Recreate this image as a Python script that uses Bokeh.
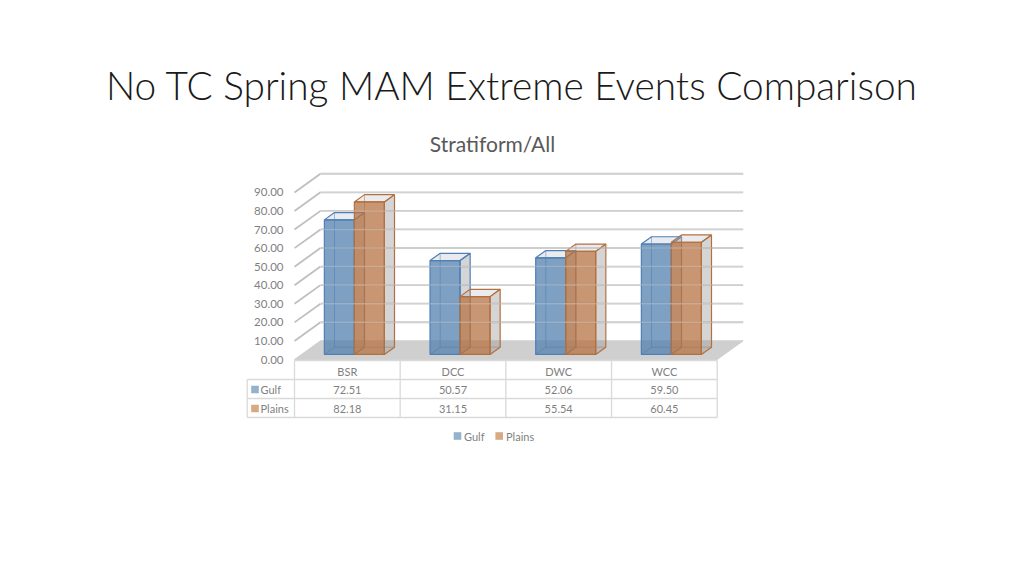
from bokeh.plotting import figure
from bokeh.models import Range1d
from bokeh.core.properties import value
from bokeh.embed import file_html
from bokeh.resources import INLINE

# ---- data ----
categories = ["BSR", "DCC", "DWC", "WCC"]
series_names = ["Gulf", "Plains"]
gulf = [72.51, 50.57, 52.06, 59.50]
plains = [82.18, 31.15, 55.54, 60.45]
y_ticks = [0, 10, 20, 30, 40, 50, 60, 70, 80, 90]
y_tick_labels = ["%.2f" % t for t in y_ticks]
title_text = "No TC Spring MAM Extreme Events Comparison"
chart_title = "Stratiform/All"

# ---- layout (window pixel anchors) ----
W, H = 1008, 560
ORG = 0              # canvas origin in the captured picture
X0_PX = 294.0        # left edge of first category at front plane
CAT_PX = 105.67      # pixels per category
Y0_PX = 359.0        # value 0 at front plane
VAL_PX = 1.856       # pixels per value unit
DX = 26.0 / CAT_PX   # depth shift (category units) for full depth
DY = 18.7 / VAL_PX   # depth shift (value units) for full depth
D1, D2 = 0.27, 0.66  # bar front/back depth
BW = 30.0 / CAT_PX   # bar width


def wx(px):
    return (px - X0_PX) / CAT_PX


def wy(py):
    return (Y0_PX - py) / VAL_PX


p = figure(width=W, height=H, output_backend="svg", toolbar_location=None,
           x_range=Range1d(wx(ORG), wx(ORG + W)), y_range=Range1d(wy(ORG + H), wy(ORG)),
           min_border=0)
p.axis.visible = False
p.grid.visible = False
p.outline_line_color = None
p.background_fill_color = "white"
p.border_fill_color = "white"


def P(x, v, d):
    return x + d * DX, v + d * DY


ncat = len(categories)

# ---- back wall gridlines and side diagonals ----
gx, gy = [], []
for t in y_ticks[1:]:
    a = P(0, t, 1)
    b = P(ncat, t, 1)
    gx.append([a[0], b[0]]); gy.append([a[1], b[1]])
    c = P(0, t, 0)
    gx.append([c[0], a[0]]); gy.append([c[1], a[1]])
p.multi_line(gx, gy, line_color="#BFBFBF", line_width=1.8)

# ---- floor ----
fl = [P(0, 0, 0), P(ncat, 0, 0), P(ncat, 0, 1), P(0, 0, 1)]
p.patch([q[0] for q in fl], [q[1] for q in fl], fill_color="#CFCFCF", line_color="#CFCFCF", line_width=1)

# ---- bars ----
styles = [
    dict(fill="#5280AF", edge="#4F7FB8"),
    dict(fill="#B67344", edge="#B3703F"),
]
for s, vals in enumerate([gulf, plains]):
    hx, hy, rx, ry, tx, ty, fx, fy = [], [], [], [], [], [], [], []
    for i, v in enumerate(vals):
        x0 = i + 0.5 + (s - 1) * BW
        x1 = x0 + BW
        for a, b in [((x0, 0, D2), (x0, v, D2)), ((x0, 0, D2), (x1, 0, D2)), ((x0, 0, D1), (x0, 0, D2))]:
            pa, pb = P(*a), P(*b)
            hx.append([pa[0], pb[0]]); hy.append([pa[1], pb[1]])
        r = [P(x1, 0, D1), P(x1, 0, D2), P(x1, v, D2), P(x1, v, D1)]
        rx.append([q[0] for q in r]); ry.append([q[1] for q in r])
        t = [P(x0, v, D1), P(x1, v, D1), P(x1, v, D2), P(x0, v, D2)]
        tx.append([q[0] for q in t]); ty.append([q[1] for q in t])
        f = [P(x0, 0, D1), P(x1, 0, D1), P(x1, v, D1), P(x0, v, D1)]
        fx.append([q[0] for q in f]); fy.append([q[1] for q in f])
    st = styles[s]
    p.multi_line(hx, hy, line_color=st["edge"], line_width=1.0, line_alpha=0.6)
    p.patches(rx, ry, fill_color="#9C9C9C", fill_alpha=0.42, line_color=st["edge"], line_width=1.2)
    p.patches(tx, ty, fill_color="#B8BEC8", fill_alpha=0.3, line_color=st["edge"], line_width=1.2)
    p.patches(fx, fy, fill_color=st["fill"], fill_alpha=0.75, line_color=st["edge"], line_width=1.2)

# faint gridlines showing through the translucent bars
ox, oy = [], []
for t in y_ticks[1:]:
    a = P(0, t, 1)
    b = P(ncat, t, 1)
    ox.append([a[0], b[0]]); oy.append([a[1], b[1]])
p.multi_line(ox, oy, line_color="white", line_alpha=0.3, line_width=1.5)

FONT = value("Lato")
GREY = "#7F7F7F"

# ---- y tick labels ----
p.text([wx(283)] * len(y_ticks), y_ticks, text=y_tick_labels, text_font=FONT,
       text_font_size="11.5px", text_color=GREY, text_align="right", text_baseline="middle")

# ---- data table ----
row_top = [360.0, 379.0, 398.0, 417.0]
left_px = 246.7
tlx, tly = [], []
tlx.append([0, ncat]); tly.append([wy(row_top[0])] * 2)
for r in row_top[1:]:
    tlx.append([wx(left_px), ncat]); tly.append([wy(r)] * 2)
for k in range(ncat + 1):
    tlx.append([k, k]); tly.append([wy(row_top[0]), wy(row_top[-1])])
tlx.append([wx(left_px), wx(left_px)]); tly.append([wy(row_top[1]), wy(row_top[-1])])
p.multi_line(tlx, tly, line_color="#D9D9D9", line_width=1.3)

cx = [i + 0.5 for i in range(ncat)]
hdr_y = wy((row_top[0] + row_top[1]) / 2 + 1)
p.text(cx, [hdr_y] * ncat, text=categories, text_font=FONT, text_font_size="11px",
       text_color=GREY, text_align="center", text_baseline="middle")
key_colors = ["#93B2CC", "#D6AA82"]
for s, vals in enumerate([gulf, plains]):
    ry_mid = wy((row_top[s + 1] + row_top[s + 2]) / 2 + 0.5)
    p.text(cx, [ry_mid] * ncat, text=["%.2f" % v for v in vals], text_font=FONT, text_font_size="11px",
           text_color=GREY, text_align="center", text_baseline="middle")
    p.rect([wx(254.5)], [ry_mid], width=7.6 / CAT_PX, height=7.6 / VAL_PX,
           fill_color=key_colors[s], line_color=None)
    p.text([wx(260)], [ry_mid], text=[series_names[s]], text_font=FONT, text_font_size="11px",
           text_color=GREY, text_align="left", text_baseline="middle")

# ---- legend ----
leg_y = wy(435.5)
leg_key_px = [457.0, 498.7]
leg_txt_px = [463.5, 505.5]
for s in range(2):
    p.rect([wx(leg_key_px[s])], [leg_y], width=7.6 / CAT_PX, height=7.6 / VAL_PX,
           fill_color=key_colors[s], line_color=None)
    p.text([wx(leg_txt_px[s])], [leg_y], text=[series_names[s]], text_font=FONT, text_font_size="11px",
           text_color=GREY, text_align="left", text_baseline="middle")

# ---- titles ----
p.text([wx(511.5)], [wy(84)], text=[title_text], text_font=value("Lato Light"), text_font_size="38.8px",
       text_color="#1A1A1A", text_align="center", text_baseline="middle")
p.text([wx(492)], [wy(142.5)], text=[chart_title], text_font=FONT, text_font_size="21px",
       text_color="#595959", text_align="center", text_baseline="middle")

open("out.html", "w").write(file_html(p, INLINE))
